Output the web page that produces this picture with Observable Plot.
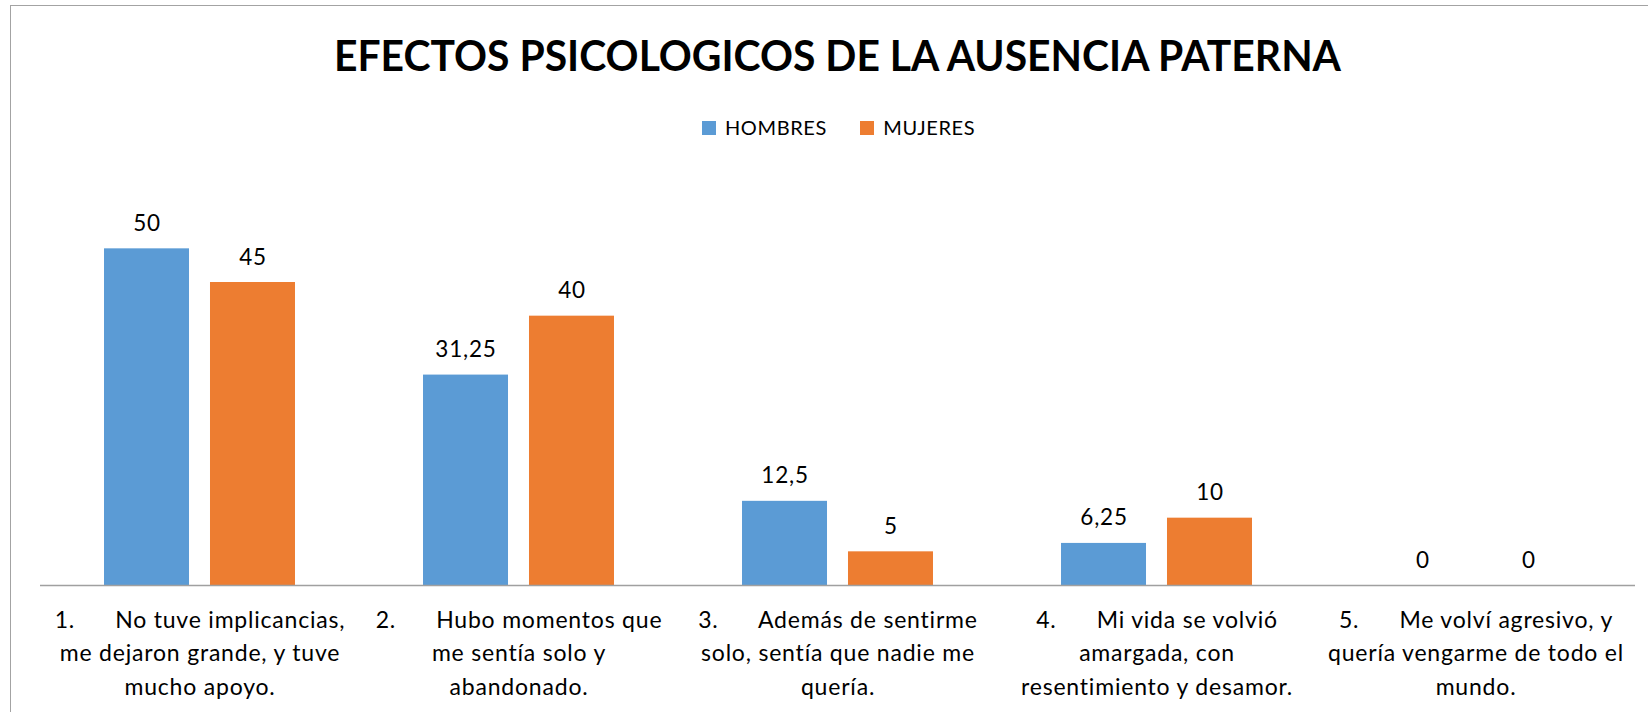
<!DOCTYPE html>
<html><head><meta charset="utf-8">
<script src="https://cdn.jsdelivr.net/npm/d3@7"></script>
<script src="https://cdn.jsdelivr.net/npm/@observablehq/plot@0.6"></script>
<style>
body{margin:0;background:#fff;}
#page{position:relative;width:1648px;height:712px;overflow:hidden;font-family:Lato,sans-serif;background:#fff;}
#frame{position:absolute;left:10px;top:5px;width:1700px;height:800px;border-left:1px solid #a3a3a3;border-top:1px solid #a3a3a3;}
#title{position:absolute;left:334.3px;top:33.5px;white-space:nowrap;font-weight:700;font-size:42px;line-height:42px;color:#000;transform-origin:0 0;}
.sw{position:absolute;width:14px;height:14px;top:120.7px}
.lg{position:absolute;top:117px;font-size:20px;line-height:20px;letter-spacing:0.6px;white-space:nowrap;color:#000}
#chart{position:absolute;left:0;top:0}
#chart text{letter-spacing:0.8px}
</style>
</head><body>
<div id="page">
  <div id="frame"></div>
  <div id="title">EFECTOS PSICOLOGICOS DE LA AUSENCIA PATERNA</div>
  <div id="legend"></div>
  <div id="chart"></div>
</div>
<script>
const TAB = "\u00a0".repeat(6);
const categories = [
  "1." + TAB + "No tuve implicancias,\nme dejaron grande, y tuve\nmucho apoyo.",
  "2." + TAB + "Hubo momentos que\nme sentía solo y\nabandonado.",
  "3." + TAB + "Además de sentirme\nsolo, sentía que nadie me\nquería.",
  "4." + TAB + "Mi vida se volvió\namargada, con\nresentimiento y desamor.",
  "5." + TAB + "Me volví agresivo, y\nquería vengarme de todo el\nmundo."
];
const series = ["HOMBRES", "MUJERES"];
const hombres = [50, 31.25, 12.5, 6.25, 0];
const mujeres = [45, 40, 5, 10, 0];
const colors = ["#5B9BD5", "#ED7D31"];

const data = [];
categories.forEach((c, i) => {
  data.push({cat: c, s: series[0], v: hombres[i]});
  data.push({cat: c, s: series[1], v: mujeres[i]});
});
const fmt = v => String(v).replace(".", ",");

const chart = Plot.plot({
  width: 1648, height: 712,
  marginLeft: 39.3, marginRight: 13, marginTop: 181, marginBottom: 127,
  fx: {domain: categories, padding: 0, axis: null},
  x: {domain: series, paddingInner: 0.198, paddingOuter: 0.604, axis: null, round: false},
  y: {domain: [0, 60], axis: null},
  color: {domain: series, range: colors},
  style: {fontFamily: "Lato, sans-serif", background: "transparent"},
  marks: [
    Plot.barY(data, {fx: "cat", x: "s", y: "v", fill: "s"}),
    Plot.ruleY([0], {stroke: "#a0a0a0", strokeWidth: 1.5}),
    Plot.text(data, {fx: "cat", x: "s", y: "v", text: d => fmt(d.v), dy: -18, lineAnchor: "bottom", fontSize: 22.5, fill: "#000"}),
    Plot.text(categories, {fx: d => d, text: d => d, frameAnchor: "bottom", lineAnchor: "top", dy: 18.5, fontSize: 23, lineHeight: 1.46, fill: "#000"})
  ]
});
document.getElementById("chart").appendChild(chart);

// legend
const lg = document.getElementById("legend");
const swX = [702, 860], txX = [725, 883.3];
series.forEach((s, i) => {
  const sw = document.createElement("div");
  sw.className = "sw"; sw.style.left = swX[i] + "px"; sw.style.background = colors[i];
  lg.appendChild(sw);
  const t = document.createElement("div");
  t.className = "lg"; t.style.left = txX[i] + "px"; t.textContent = s;
  lg.appendChild(t);
});

// fit title width
const title = document.getElementById("title");
const w = title.getBoundingClientRect().width;
title.style.transform = `scaleX(${1007 / w})`;
</script>
</body></html>
